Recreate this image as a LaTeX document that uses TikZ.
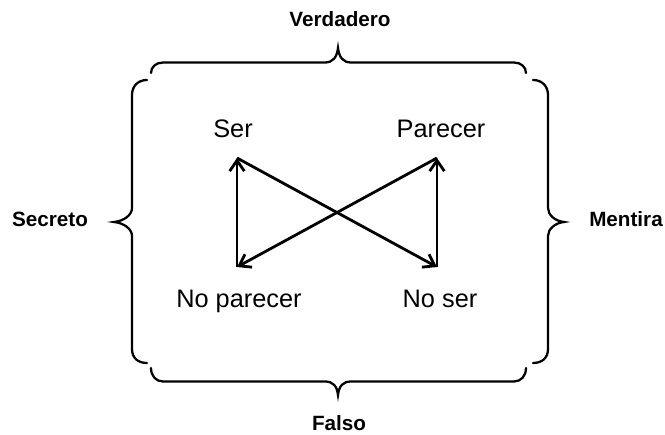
\documentclass[tikz,border=0pt]{standalone}
\usepackage{fontspec}
\setmainfont{Liberation Sans}
\usetikzlibrary{arrows.meta}

\tikzset{
  word/.style={anchor=base,inner sep=0pt,font=\fontsize{19}{22}\selectfont},
  side/.style={anchor=base,inner sep=0pt,font=\fontsize{15.5}{18}\selectfont\bfseries},
  brace/.style={line width=1.7pt,line cap=round},
  arrow/.style={line width=2.1pt,-{Straight Barb[length=8pt,width=11pt]}}
}

\begin{document}
\begin{tikzpicture}[x=0.75pt,y=-0.75pt]
      \useasboundingbox (0,0) rectangle (665,435);
      % Braces
      \draw[brace] (151,73) .. controls (151,67) and (156,62.5) .. (163,62.5) -- (325,62.5)
        .. controls (333,62.5) and (337,57) .. (338,48) .. controls (339,57) and (343,62.5) .. (351,62.5)
        -- (514,62.5) .. controls (521,62.5) and (526,67) .. (526,73);
      \draw[brace] (151,368) .. controls (151,376) and (156,381.5) .. (163,381.5) -- (325,381.5)
        .. controls (333,381.5) and (337,386) .. (338,395) .. controls (339,386) and (343,381.5) .. (351,381.5)
        -- (514,381.5) .. controls (521,381.5) and (526,376) .. (526,368);
      \draw[brace] (147,80) .. controls (138,80) and (132,86) .. (132,95) -- (132,208)
        .. controls (132,215) and (124,221) .. (114,222) .. controls (124,223) and (132,229) .. (132,236)
        -- (132,349) .. controls (132,358) and (138,363) .. (147,363);
      \draw[brace] (533,80) .. controls (542,80) and (548,86) .. (548,95) -- (548,208)
        .. controls (548,215) and (555,221) .. (564,222) .. controls (555,223) and (548,229) .. (548,236)
        -- (548,349) .. controls (548,358) and (542,363) .. (533,363);
      % Side labels
      \node[side] (verdadero) at (340,27) {Verdadero};
      \node[side] (falso) at (339,430) {Falso};
      \node[side] (secreto) at (50,227) {Secreto};
      \node[side] (mentira) at (626,227) {Mentira};
      % Square labels
      \node[word] (ser) at (233,138) {Ser};
      \node[word] (parecer) at (441,138) {Parecer};
      \node[word] (noparecer) at (239,307) {No parecer};
      \node[word] (noser) at (440,307) {No ser};
      % Corners
      \coordinate (s) at (237,158);
      \coordinate (p) at (437,158);
      \coordinate (np) at (237,267);
      \coordinate (ns) at (437,267);
      % Arrows
      \draw[arrow] (np) -- (s);
      \draw[arrow] (s) -- (ns);
      \draw[arrow] (ns) -- (p);
      \draw[arrow] (p) -- (np);
    \end{tikzpicture}
\end{document}
